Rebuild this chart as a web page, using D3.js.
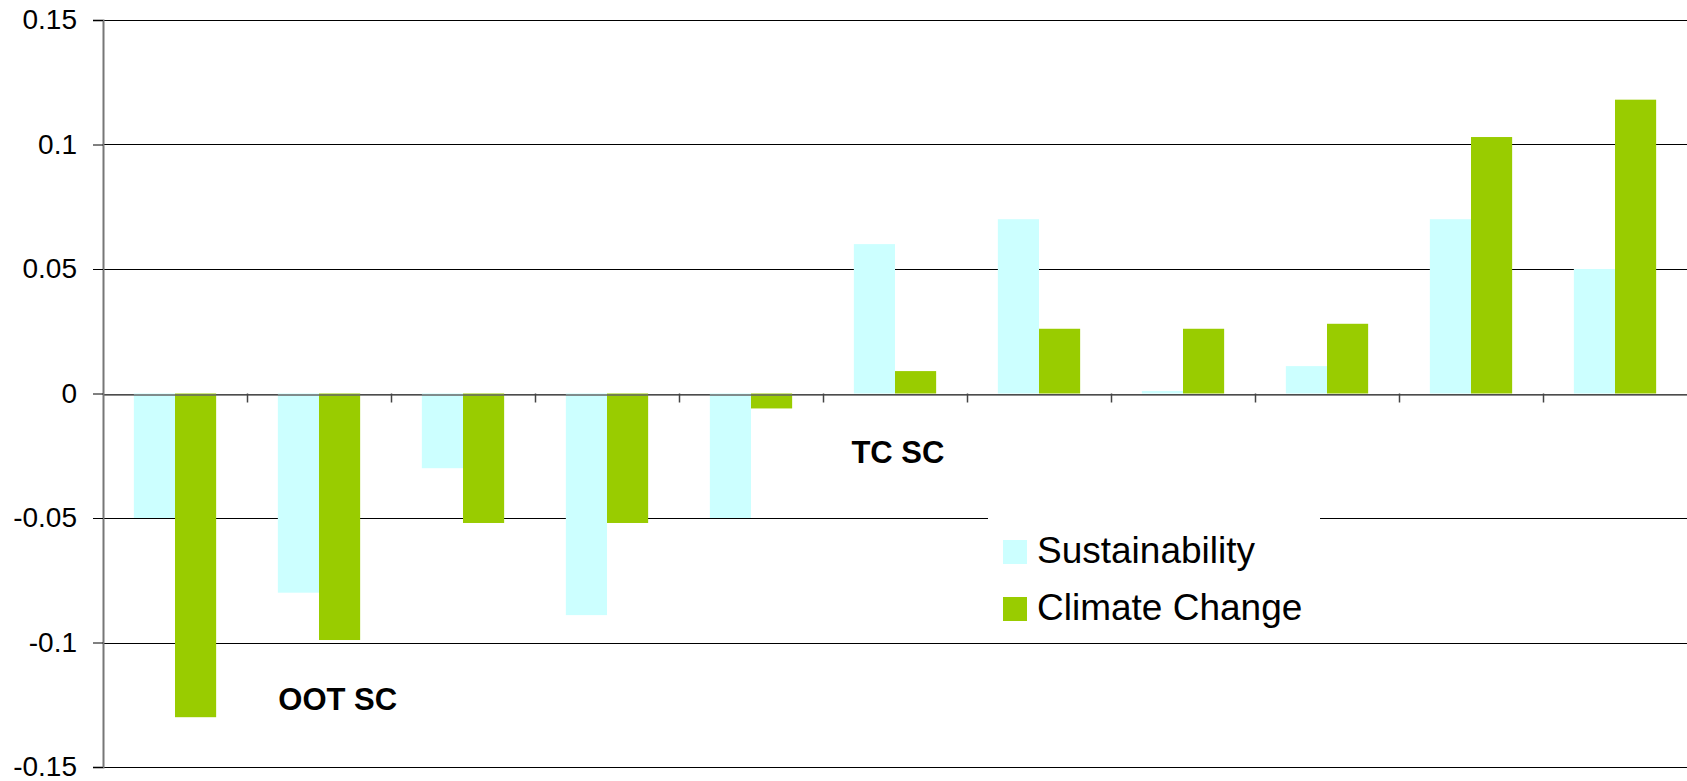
<!DOCTYPE html>
<html>
<head>
<meta charset="utf-8">
<script src="https://cdn.jsdelivr.net/npm/d3@7"></script>
<style>
  body { margin: 0; background: #fff; }
  text { font-family: "Liberation Sans", Arial, sans-serif; }
</style>
</head>
<body>
<div id="chart"></div>
<script>
// chart data
var categories = ["1", "2", "3", "4", "5", "6", "7", "8", "9", "10", "11"];
var seriesNames = ["Sustainability", "Climate Change"];
var sustainability = [-0.05, -0.08, -0.03, -0.089, -0.05, 0.06, 0.07, 0.001, 0.011, 0.07, 0.05];
var climateChange = [-0.13, -0.099, -0.052, -0.052, -0.006, 0.009, 0.026, 0.026, 0.028, 0.103, 0.118];
var yTicks = [-0.15, -0.1, -0.05, 0, 0.05, 0.1, 0.15];
var annotations = [
  { text: "OOT SC", cat: "2", pos: 0.63, value: -0.127 },
  { text: "TC SC", cat: "6", pos: 0.52, value: -0.028 }
];

var svgWidth = 1687;
var svgHeight = 781;
var margin = { top: 20, right: 0, bottom: 14, left: 103 };
var width = svgWidth - margin.left - margin.right;
var height = svgHeight - margin.top - margin.bottom;

var colors = ["#CCFFFF", "#99CC00"];

var svg = d3.select("#chart")
  .append("svg")
  .attr("width", svgWidth)
  .attr("height", svgHeight);

var chartGroup = svg.append("g")
  .attr("transform", `translate(${margin.left}, ${margin.top})`);

var xScale = d3.scaleBand()
  .domain(categories)
  .range([0, width])
  .padding(0);

// excel style gap: 150% of a bar width
var barW = xScale.bandwidth() / 3.5;
var xSub = d3.scaleBand()
  .domain(seriesNames)
  .range([barW * 0.75, xScale.bandwidth() - barW * 0.75]);

var yScale = d3.scaleLinear()
  .domain([-0.15, 0.15])
  .range([height, 0]);

// gridlines
chartGroup.append("g")
  .selectAll("line")
  .data(yTicks)
  .enter()
  .append("line")
  .attr("x1", 0)
  .attr("x2", width)
  .attr("y1", d => Math.round(yScale(d)) + 0.5)
  .attr("y2", d => Math.round(yScale(d)) + 0.5)
  .attr("stroke", "#000")
  .attr("stroke-width", 1);

// bars
var data = categories.map((c, i) => ({ cat: c, values: [sustainability[i], climateChange[i]] }));

var groups = chartGroup.selectAll(".grp")
  .data(data)
  .enter()
  .append("g")
  .attr("class", "grp")
  .attr("transform", d => `translate(${xScale(d.cat)}, 0)`);

groups.selectAll("rect")
  .data(d => d.values.map((v, i) => ({ name: seriesNames[i], v: v, i: i })))
  .enter()
  .append("rect")
  .attr("x", d => xSub(d.name))
  .attr("width", xSub.bandwidth())
  .attr("y", d => yScale(Math.max(0, d.v)))
  .attr("height", d => Math.abs(yScale(d.v) - yScale(0)))
  .attr("fill", d => colors[d.i]);

// legend box (covers gridline)
var legend = chartGroup.append("g")
  .attr("transform", `translate(${988 - margin.left}, ${516 - margin.top})`);

legend.append("rect")
  .attr("width", 332)
  .attr("height", 118)
  .attr("fill", "#fff");

seriesNames.forEach(function(name, i) {
  legend.append("rect")
    .attr("x", 15)
    .attr("y", 24 + i * 57)
    .attr("width", 24)
    .attr("height", 24)
    .attr("fill", colors[i]);
  legend.append("text")
    .attr("x", 49)
    .attr("y", 47 + i * 57)
    .attr("font-size", 37)
    .attr("fill", "#000")
    .text(name);
});

// x axis at zero
var bottomAxis = d3.axisBottom(xScale).tickSize(0).tickFormat("");
chartGroup.append("g")
  .attr("transform", `translate(0, ${Math.round(yScale(0)) + 0.5})`)
  .call(bottomAxis)
  .call(g => g.select(".domain").attr("stroke", "#666").attr("stroke-width", 1.5));

chartGroup.append("g")
  .selectAll("line")
  .data(categories.slice(1))
  .enter()
  .append("line")
  .attr("x1", d => Math.round(xScale(d)) + 0.5)
  .attr("x2", d => Math.round(xScale(d)) + 0.5)
  .attr("y1", yScale(0))
  .attr("y2", yScale(0) + 9)
  .attr("stroke", "#444")
  .attr("stroke-width", 1.5);

// y axis
var leftAxis = d3.axisLeft(yScale)
  .tickValues(yTicks)
  .tickSize(10)
  .tickPadding(16)
  .tickFormat(d => d === 0 ? "0" : String(+d.toFixed(2)));

chartGroup.append("g")
  .call(leftAxis)
  .call(g => g.select(".domain").attr("stroke", "#777").attr("stroke-width", 2))
  .call(g => g.selectAll(".tick line").attr("stroke", "#000"))
  .call(g => g.selectAll(".tick text")
    .attr("font-size", 28)
    .attr("fill", "#000")
    .attr("font-family", "'Liberation Sans', Arial, sans-serif"));

// annotations
chartGroup.selectAll(".note")
  .data(annotations)
  .enter()
  .append("text")
  .attr("class", "note")
  .attr("x", d => xScale(d.cat) + xScale.bandwidth() * d.pos)
  .attr("y", d => yScale(d.value))
  .attr("text-anchor", "middle")
  .attr("font-size", 31)
  .attr("font-weight", "bold")
  .attr("fill", "#000")
  .text(d => d.text);
</script>
</body>
</html>
